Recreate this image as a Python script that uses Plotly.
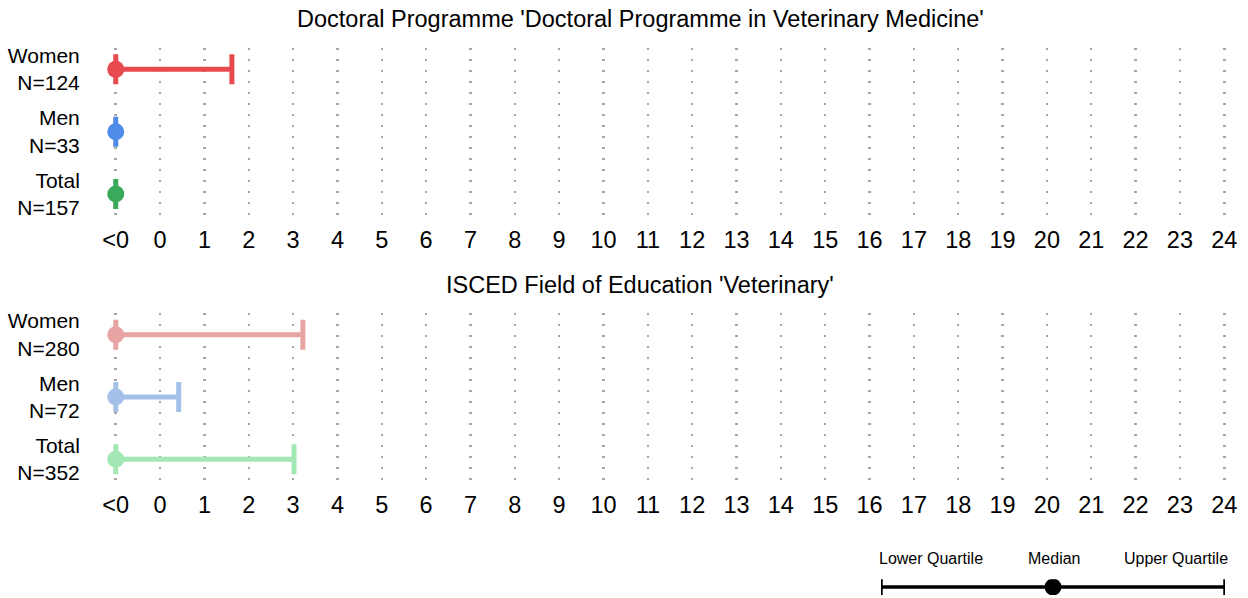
import plotly.graph_objects as go

# ---------------- data ----------------
groups = ["Women", "Men", "Total"]
titles = ["Doctoral Programme 'Doctoral Programme in Veterinary Medicine'",
          "ISCED Field of Education 'Veterinary'"]
n_top = [124, 33, 157]
n_bot = [280, 72, 352]
# value -1 stands for "<0"
lower_top = [-1, -1, -1]
median_top = [-1, -1, -1]
upper_top = [1.62, -1, -1]
lower_bot = [-1, -1, -1]
median_bot = [-1, -1, -1]
upper_bot = [3.22, 0.42, 3.02]
tick_vals = list(range(-1, 25))
tick_text = ["&lt;0"] + [str(v) for v in range(0, 25)]
colors_top = ["#E84B4F", "#4F8BE8", "#3AAA5A"]
colors_bot = ["#E8A3A3", "#A3C0E8", "#A3E8B4"]
legend_labels = ["Lower Quartile", "Median", "Upper Quartile"]
legend_vals = [0.0, 0.5, 1.0]

FONT = "Liberation Sans, Arial, Helvetica, sans-serif"
H = 598.0
W = 1248.0

fig = go.Figure()


def add_panel(idx, lower, median, upper, ns, colors):
    xa = "x" if idx == 1 else "x%d" % idx
    ya = "y" if idx == 1 else "y%d" % idx
    for g, lo, me, up, n, c in zip(groups, lower, median, upper, ns, colors):
        lab = "%s<br>N=%d" % (g, n)
        fig.add_trace(go.Scatter(
            x=[me], y=[lab], mode="markers",
            marker=dict(size=17, color=c),
            error_x=dict(type="data", symmetric=False,
                         array=[up - me], arrayminus=[me - lo],
                         color=c, thickness=5, width=15),
            xaxis=xa, yaxis=ya, showlegend=False, hoverinfo="skip"))
    return [("%s<br>N=%d" % (g, n)) for g, n in zip(groups, ns)]


cats_top = add_panel(1, lower_top, median_top, upper_top, n_top, colors_top)
cats_bot = add_panel(2, lower_bot, median_bot, upper_bot, n_bot, colors_bot)

# legend key
fig.add_trace(go.Scatter(
    x=[legend_vals[1]], y=[0], mode="markers",
    marker=dict(size=17, color="black"),
    error_x=dict(type="data", symmetric=False,
                 array=[legend_vals[2] - legend_vals[1]],
                 arrayminus=[legend_vals[1] - legend_vals[0]],
                 color="black", thickness=3.5, width=10),
    xaxis="x3", yaxis="y3", showlegend=False, hoverinfo="skip"))

x_left, x_right = 98, 1242
xdom = [x_left / W, x_right / W]


def ydom(top_px, bot_px):
    return [(H - bot_px) / H, (H - top_px) / H]


xaxis_common = dict(
    range=[-1.4, 24.4], tickmode="array", tickvals=tick_vals, ticktext=tick_text,
    showgrid=True, gridcolor="#A6A6A6", gridwidth=2.5, griddash="2.5px,8.5px",
    zeroline=False, showline=False, ticks="outside", ticklen=3,
    tickcolor="rgba(0,0,0,0)", tickfont=dict(size=23.5, color="black", family=FONT),
    fixedrange=True, domain=xdom)
yaxis_common = dict(
    type="category", range=[2.35, -0.35], showgrid=False, zeroline=False,
    ticks="outside", ticklen=13, tickcolor="rgba(0,0,0,0)",
    tickfont=dict(size=21, color="black", family=FONT), fixedrange=True)

fig.update_layout(
    width=1248, height=598,
    margin=dict(l=0, r=0, t=0, b=0),
    paper_bgcolor="white", plot_bgcolor="white",
    font=dict(family=FONT, color="black"),
    xaxis=dict(**xaxis_common, anchor="y"),
    yaxis=dict(**yaxis_common, anchor="x", domain=ydom(45, 215),
               categoryarray=cats_top, categoryorder="array"),
    xaxis2=dict(**xaxis_common, anchor="y2"),
    yaxis2=dict(**yaxis_common, anchor="x2", domain=ydom(313, 483),
                categoryarray=cats_bot, categoryorder="array"),
    xaxis3=dict(range=[0, 1], domain=[881 / W, 1225 / W], visible=False,
                anchor="y3", fixedrange=True),
    yaxis3=dict(range=[-1, 1], domain=ydom(582, 598), visible=False,
                anchor="x3", fixedrange=True),
)

# panel titles
title_x = 640 / W
fig.add_annotation(text=titles[0], xref="paper", yref="paper",
                   x=title_x, y=(H - 16) / H,
                   showarrow=False, font=dict(size=23.5, color="black", family=FONT),
                   xanchor="center", yanchor="middle")
fig.add_annotation(text=titles[1], xref="paper", yref="paper",
                   x=title_x, y=(H - 285) / H,
                   showarrow=False, font=dict(size=23.5, color="black", family=FONT),
                   xanchor="center", yanchor="middle")

# legend labels
anchors = ["left", "center", "right"]
shifts = [-4, 1, 5]
for lab, v, a, s in zip(legend_labels, legend_vals, anchors, shifts):
    fig.add_annotation(text=lab, xref="x3", yref="paper", x=v, y=(H - 561) / H,
                       showarrow=False, xanchor=a, yanchor="middle", xshift=s,
                       font=dict(size=16, color="black", family=FONT))

fig.write_html("out.html", config={"displayModeBar": False, "staticPlot": True})

# remove default page margin so the figure sits at the window origin
with open("out.html", "r", encoding="utf-8") as f:
    html = f.read()
html = html.replace("<head>", "<head><style>html,body{margin:0;padding:0;overflow:hidden}</style>", 1)
with open("out.html", "w", encoding="utf-8") as f:
    f.write(html)
